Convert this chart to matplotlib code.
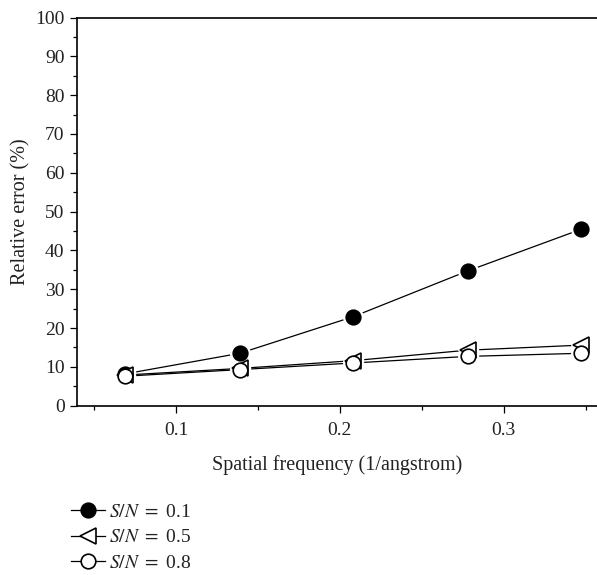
import matplotlib
matplotlib.use("Agg")
import matplotlib.pyplot as plt
from matplotlib.ticker import MultipleLocator

plt.rcParams['font.family'] = ['Liberation Serif', 'DejaVu Serif']
plt.rcParams['mathtext.fontset'] = 'stix'

freq = [0.069, 0.139, 0.208, 0.278, 0.347]
err_sn01 = [8.2, 13.5, 22.9, 34.7, 45.4]
err_sn05 = [7.9, 9.6, 11.6, 14.3, 15.6]
err_sn08 = [7.6, 9.3, 11.0, 12.7, 13.5]
labels = [r'$S/N\ =\ $0.1', r'$S/N\ =\ $0.5', r'$S/N\ =\ $0.8']

txt = '#222222'
fig = plt.figure(figsize=(5.97, 5.75), dpi=100)
ax = fig.add_axes([77 / 597, 1 - 405.7 / 575, 1 - 77 / 597, (405.7 - 17.5) / 575])

series = [
    (err_sn01, 'o', 'black', 10.5),
    (err_sn05, '<', 'white', 11),
    (err_sn08, 'o', 'white', 10.5),
]
# lines first, then white halos (gap where the lines meet a marker), then markers
for vals, mk, fc, ms in series:
    ax.plot(freq, vals, color='black', lw=0.9, zorder=3)
for vals, mk, fc, ms in series:
    ax.plot(freq, vals, linestyle='None', marker=mk, ms=ms + 3.5, mfc='white',
            mec='white', zorder=4)
handles = []
for i, (vals, mk, fc, ms) in enumerate(series):
    ax.plot(freq, vals, linestyle='None', marker=mk, ms=ms, mfc=fc,
            mec='black', mew=1.2, zorder=5 + i)
    lh, = plt.plot([], [], color='black', lw=0.9, marker=mk, ms=ms, mfc=fc,
                   mec='black', mew=1.2)
    handles.append(lh)

ax.set_xlim(0.0396, 0.357)
ax.set_ylim(0, 100)
ax.xaxis.set_major_locator(MultipleLocator(0.1))
ax.xaxis.set_minor_locator(MultipleLocator(0.05))
ax.yaxis.set_major_locator(MultipleLocator(10))
ax.yaxis.set_minor_locator(MultipleLocator(5))
ax.set_xticks([0.1, 0.2, 0.3])
ax.set_xticklabels(['0.1', '0.2', '0.3'])

ax.spines['right'].set_visible(False)
for s in ['left', 'bottom', 'top']:
    ax.spines[s].set_linewidth(1.2)
ax.tick_params(which='major', direction='out', length=5, width=0.9,
               labelsize=14, colors='black', labelcolor=txt)
ax.tick_params(which='minor', direction='out', length=3, width=0.9)
ax.tick_params(axis='x', pad=7)
ax.tick_params(axis='y', pad=4)

ax.set_xlabel('Spatial frequency (1/angstrom)', fontsize=14.5, color=txt, labelpad=11)
ax.set_ylabel('Relative error (%)', fontsize=14.5, color=txt, labelpad=3)

fig.legend(handles, labels, loc='upper left', bbox_to_anchor=(71 / 597, 1 - 503 / 575),
           frameon=False, fontsize=14, handlelength=1.75, handletextpad=0.2,
           labelspacing=0.42, borderaxespad=0, borderpad=0, labelcolor=txt)

fig.savefig('out.png', dpi=100)
